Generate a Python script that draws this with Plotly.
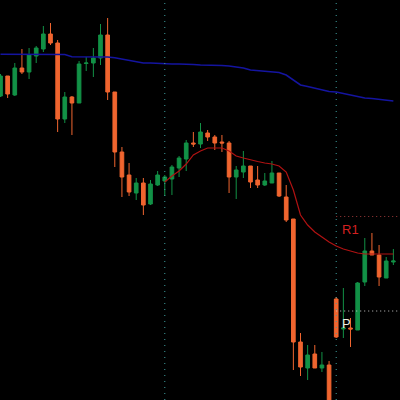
import plotly.graph_objects as go

# Candle index (one per bar)
bars = list(range(56))

opens = [304, 324, 305, 332, 328, 344, 351, 366, 357, 281, 303, 297, 336.5, 337, 342, 365,
         308, 248, 225, 207, 217, 196, 215, 219, 221, 232, 241, 257, 256, 267, 263, 258,
         257, 223, 228, 234, 220, 215, 217, 227, 203, 181, 58, 32, 46, 32,
         35, 101, 71, 72, 70, 118, 149, 145, 122, 138]
highs = [326, 324, 337, 351, 352, 354, 374, 377, 360, 308, 304, 339, 343, 352, 376, 382,
         308, 253, 237, 222, 222, 220, 229, 225, 235, 244, 260, 268, 277, 270, 265, 265,
         259, 234, 249, 234, 234, 227, 239, 227, 215, 181, 67, 55, 55, 48,
         39, 103, 112, 82, 118, 162, 167, 155, 143, 151]
lows = [303, 302, 304, 326, 321, 337, 348, 355, 268, 277, 265, 297, 329, 323, 335, 300,
        233, 203, 204, 200, 185, 195, 214, 204, 205, 223, 229, 253, 252, 259, 250, 248,
        207, 201, 222, 212, 212, 214, 217, 203, 178, 30, 24, 20, 32, 28,
        -20, 62, 62, 53, 70, 114, 145, 114, 122, 135]
closes = [324, 306, 332, 328, 345, 352, 366, 357, 281, 303, 297, 336, 337, 342, 365, 308,
          248, 223, 208, 217, 195, 216, 225, 223, 233, 242, 257, 256, 268, 263, 257, 257,
          223, 230, 234, 218, 215, 219, 227, 204, 180, 58, 33, 45, 32, 35,
          -10, 63, 72, 71, 117, 149, 145, 123, 139, 139]

# Slow moving average (blue)
ma_slow = [345.7, 345.7, 345.7, 345.7, 345.7, 345.7, 345.7, 345.7, 345.7, 345.5,
           343.3, 343.3, 343.3, 343.3, 343.3, 343.0, 342.3, 341.0, 339.5, 338.0,
           337.0, 337.0, 336.5, 336.0, 336.0, 336.0, 336.0, 335.5, 335.0, 335.0,
           335.0, 334.5, 334.0, 333.0, 332.0, 330.0, 329.5, 329.0, 328.5, 327.5,
           325.0, 320.0, 315.0, 313.5, 312.0, 310.0, 308.5, 308.0, 306.5, 304.5,
           303.0, 302.0, 301.5, 300.5, 299.5, 299.0]

# Fast moving average (red), starts with the session at bar 23
ma_fast = [None] * 23 + [218, 224, 229, 236, 245, 249, 252, 252, 252, 249,
                          244, 242, 240, 238.5, 237, 236, 234, 228, 210, 185,
                          175, 168, 163, 158, 154, 151, 149, 147, 146, 146,
                          146, 146, 146]

session_starts = [23, 47]
pivot_labels = ["R1", "P"]
pivot_levels = [183.5, 89]

UP = "#129146"
DOWN = "#f0652f"

fig = go.Figure()
fig.add_trace(go.Candlestick(
    x=bars, open=opens, high=highs, low=lows, close=closes,
    increasing=dict(line=dict(color=UP, width=1), fillcolor=UP),
    decreasing=dict(line=dict(color=DOWN, width=1), fillcolor=DOWN),
    whiskerwidth=0, hoverinfo="skip", showlegend=False,
))
fig.add_trace(go.Scatter(x=bars, y=ma_slow, mode="lines",
                         line=dict(color="#1414a0", width=1.6),
                         hoverinfo="skip", showlegend=False))
fig.add_trace(go.Scatter(x=bars, y=ma_fast, mode="lines",
                         line=dict(color="#b01212", width=1.2),
                         hoverinfo="skip", showlegend=False))

for s in session_starts:
    fig.add_shape(type="line", xref="x", yref="paper", x0=s, x1=s, y0=0, y1=1,
                  line=dict(color="#3f9f9f", width=1, dash="1px,5px"), layer="above")

level_colors = ["#a03a3a", "#c8c8c8"]
text_colors = ["#d42020", "#ecece0"]
for lab, lev, lc, tc in zip(pivot_labels, pivot_levels, level_colors, text_colors):
    fig.add_shape(type="line", xref="x", yref="y", x0=session_starts[-1], x1=57,
                  y0=lev, y1=lev,
                  line=dict(color=lc, width=1, dash="1px,3px"), layer="above")
    fig.add_annotation(x=session_starts[-1] + 0.5, y=lev, text=lab, showarrow=False,
                       xanchor="left", yanchor="top", yshift=-3,
                       font=dict(family="Liberation Sans, Arial", size=13, color=tc))

fig.update_layout(
    width=400, height=400, margin=dict(l=0, r=0, t=0, b=0),
    paper_bgcolor="black", plot_bgcolor="black",
    showlegend=False, boxgap=0.27,
    xaxis=dict(range=[-0.07, 55.93], visible=False, rangeslider=dict(visible=False),
               showgrid=False, zeroline=False),
    yaxis=dict(range=[0, 400], visible=False, showgrid=False, zeroline=False),
)

fig.write_html("out.html", config={"displayModeBar": False},
               post_script="document.body.style.margin='0';document.body.style.padding='0';"
                           "document.body.style.background='black';")
